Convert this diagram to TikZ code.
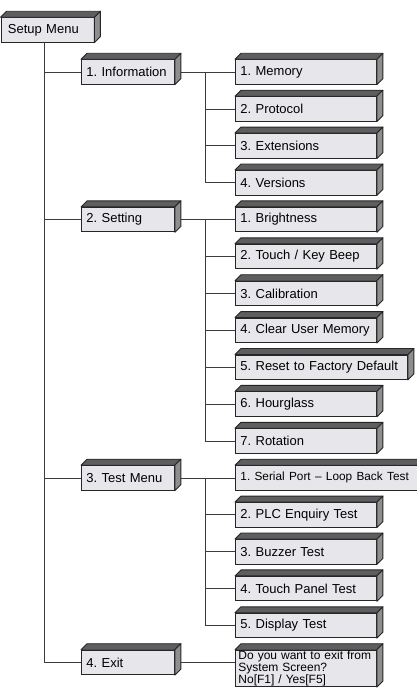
\documentclass[tikz,border=0pt]{standalone}
\usepackage{fontspec}
\setmainfont{Liberation Sans}
\usetikzlibrary{calc}

\definecolor{boxfront}{HTML}{E7E7EB}
\definecolor{boxtop}{HTML}{5E5E5E}
\definecolor{boxside}{HTML}{8E8E8E}
\definecolor{wirecol}{HTML}{3C3C3C}

\begin{document}
\begin{tikzpicture}[x=1pt, y=-1pt,
    menu/.style={draw=black!85, fill=boxfront, line width=0.9pt, anchor=west,
        minimum height=24.5pt, inner xsep=5pt, inner ysep=0pt, align=left,
        font=\fontsize{13}{15}\selectfont\frenchspacing},
    mainbox/.style={menu, text width=83pt},
    itembox/.style={menu, text width=#1pt},
    itembox/.default=131,
    wire/.style={draw=wirecol, line width=0.8pt},
    face/.style={draw=black!85, line width=0.9pt, line join=round}]
    % Define parameters of layout
    \def\rowtop{72};
    \def\rowstep{36.9};
    \def\depth{6};

    \useasboundingbox (0,0) rectangle (417,693);

    % Draw root and main entries
    \node[mainbox, inner xsep=7pt, text width=79pt] (setup) at (0.5,30) {Setup Menu};
    \node[mainbox] (inf) at (81,{\rowtop}) {1. Information};
    \node[mainbox] (set) at (81,{\rowtop+4*\rowstep}) {2. Setting};
    \node[mainbox] (test) at (81,{\rowtop+11*\rowstep}) {3. Test Menu};
    \node[mainbox] (exit) at (81,{\rowtop+16*\rowstep}) {4. Exit};

    % Draw entries below Information
    \foreach \t [count=\i] in {1. Memory, 2. Protocol, 3. Extensions, 4. Versions}
        \node[itembox] (inf-\i) at (235,{\rowtop+(\i-1)*\rowstep}) {\mbox{\t}};

    % Draw entries below Setting
    \foreach \t/\w [count=\i] in {1. Brightness/131, {2. Touch / Key Beep}/131,
        3. Calibration/131, 4. Clear User Memory/131, 5. Reset to Factory Default/162,
        6. Hourglass/131, 7. Rotation/131}
        \node[itembox=\w] (set-\i) at (235,{\rowtop+(\i+3)*\rowstep}) {\mbox{\t}};

    % Draw entries below Test Menu
    \foreach \t/\w [count=\i] in {{\fontsize{11.8}{14}\selectfont 1. Serial Port -- Loop Back Test}/172,
        2. PLC Enquiry Test/131, 3. Buzzer Test/131, 4. Touch Panel Test/131, 5. Display Test/131}
        \node[itembox=\w] (test-\i) at (235,{\rowtop+(\i+10)*\rowstep}) {\mbox{\t}};

    % Draw exit question
    \node[itembox=135, anchor=north west, minimum height=36.5pt, inner xsep=3pt, inner ysep=0.5pt,
        font=\fontsize{12}{10.8}\selectfont] (quit) at (exit.north -| inf-1.west)
        {\mbox{Do you want to exit from}\\\mbox{System Screen?}\\\mbox{No[F1] / Yes[F5]}};

    % Draw main trunk
    \coordinate (trunk) at ($(setup.south west)+(44,0)$);
    \foreach \n in {inf, set, test, exit}
        \draw[wire] (trunk) |- (\n.west);

    % Draw branches
    \draw[wire] (inf.east) -- ++(30,0) coordinate (inf-bus);
    \foreach \i in {1,...,4}
        \draw[wire] (inf-bus) |- (inf-\i.west);
    \draw[wire] (set.east) -- ++(30,0) coordinate (set-bus);
    \foreach \i in {1,...,7}
        \draw[wire] (set-bus) |- (set-\i.west);
    \draw[wire] (test.east) -- ++(30,0) coordinate (test-bus);
    \foreach \i in {1,...,5}
        \draw[wire] (test-bus) |- (test-\i.west);
    \draw[wire] (exit.east) -- (exit.east -| quit.west);

    % Draw top and side of every box
    \foreach \n in {setup, inf, set, test, exit, inf-1, inf-2, inf-3, inf-4,
        set-1, set-2, set-3, set-4, set-5, set-6, set-7,
        test-1, test-2, test-3, test-4, test-5, quit} {
        \filldraw[face, fill=boxtop] (\n.north west) -- ++(\depth,-\depth)
            -- ($(\n.north east)+(\depth,-\depth)$) -- (\n.north east) -- cycle;
        \filldraw[face, fill=boxside] (\n.north east) -- ++(\depth,-\depth)
            -- ($(\n.south east)+(\depth,-\depth)$) -- (\n.south east) -- cycle;
    }
\end{tikzpicture}
\end{document}
